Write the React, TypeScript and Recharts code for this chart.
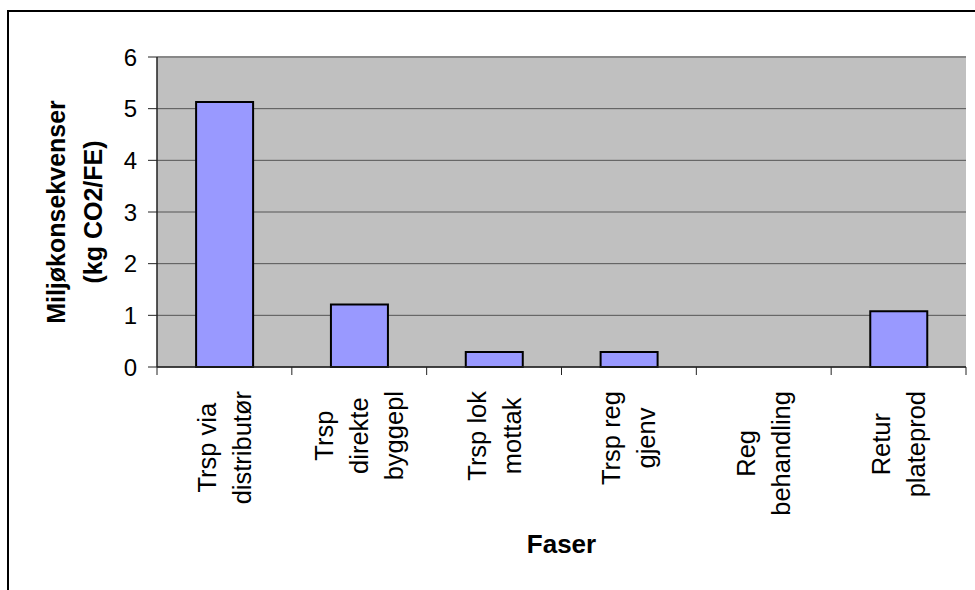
import React from 'react';
import { BarChart, Bar, XAxis, YAxis, CartesianGrid, ReferenceLine } from 'recharts';

// phases and CO2 values
const categories = [
  'Trsp via distributør',
  'Trsp direkte byggepl',
  'Trsp lok mottak',
  'Trsp reg gjenv',
  'Reg behandling',
  'Retur plateprod',
];
const co2Values = [5.13, 1.21, 0.29, 0.29, 0, 1.08];
const tickLines = [
  ['Trsp via', 'distributør'],
  ['Trsp', 'direkte', 'byggepl'],
  ['Trsp lok', 'mottak'],
  ['Trsp reg', 'gjenv'],
  ['Reg', 'behandling'],
  ['Retur', 'plateprod'],
];
const yTicks = [0, 1, 2, 3, 4, 5, 6];
const yTitle = ['Miljøkonsekvenser', '(kg CO2/FE)'];
const xTitle = 'Faser';

const data = categories.map((name, i) => ({ name, value: co2Values[i] }));

const FONT = "'Liberation Sans', Arial, sans-serif";
const X_FONT_SIZE = 25.5;
const LINE_GAP = 35;

let ctx: CanvasRenderingContext2D | null = null;
function measure(text: string) {
  if (!ctx) ctx = document.createElement('canvas').getContext('2d');
  if (!ctx) return text.length * X_FONT_SIZE * 0.5;
  ctx.font = `${X_FONT_SIZE}px ${FONT}`;
  return ctx.measureText(text).width;
}

// category label (wrapped, rotated) plus the tick marks between categories
function CategoryTick(props: any) {
  const { x, y, index, payload } = props;
  const half = payload && payload.offset ? payload.offset : 0;
  const lines = tickLines[index] || [];
  const longest = Math.max(...lines.map(measure));
  const cy = y + 24 + longest / 2;
  const startX = x - ((lines.length - 1) * LINE_GAP) / 2;
  const marks = [x - half];
  if (index === tickLines.length - 1) marks.push(x + half);
  return (
    <g>
      {marks.map((mx, i) => (
        <line key={'m' + i} x1={mx} x2={mx} y1={y} y2={y + 8} stroke="#222" strokeWidth={1} />
      ))}
      {lines.map((line, i) => {
        const lx = startX + i * LINE_GAP;
        return (
          <text
            key={i}
            x={lx}
            y={cy}
            transform={`rotate(-90, ${lx}, ${cy})`}
            textAnchor="middle"
            dominantBaseline="central"
            fontFamily={FONT}
            fontSize={X_FONT_SIZE}
            fill="#000"
          >
            {line}
          </text>
        );
      })}
    </g>
  );
}

function YTitle(props: any) {
  const { viewBox } = props;
  const cy = viewBox.y + viewBox.height / 2;
  const xs = [56, 93];
  return (
    <g>
      {yTitle.map((line, i) => (
        <text
          key={i}
          x={xs[i]}
          y={cy}
          transform={`rotate(-90, ${xs[i]}, ${cy})`}
          textAnchor="middle"
          dominantBaseline="central"
          fontFamily={FONT}
          fontWeight="bold"
          fontSize={25}
          fill="#000"
        >
          {line}
        </text>
      ))}
    </g>
  );
}

export default function App() {
  return (
    <div style={{ position: 'absolute', left: 0, top: 0, width: 975, height: 590, background: '#fff', overflow: 'hidden' }}>
      <div
        style={{
          position: 'absolute',
          left: 7,
          top: 10,
          width: 1000,
          height: 620,
          border: '2px solid #000',
        }}
      />
      <div style={{ position: 'absolute', left: 0, top: 0 }}>
        <BarChart
          width={975}
          height={590}
          data={data}
          margin={{ top: 57, right: 9, bottom: 0, left: 0 }}
          barCategoryGap="29%"
        >
          <CartesianGrid vertical={false} fill="#C0C0C0" stroke="#555" strokeWidth={1} />
          <XAxis
            dataKey="name"
            interval={0}
            tick={<CategoryTick />}
            tickSize={0}
            tickMargin={0}
            tickLine={false}
            axisLine={{ stroke: '#222', strokeWidth: 1.5 }}
            height={223}
            label={{ value: xTitle, position: 'insideTop', offset: 168, fontFamily: FONT, fontWeight: 'bold', fontSize: 26, fill: '#000' }}
          />
          <YAxis
            domain={[0, 6]}
            ticks={yTicks}
            interval={0}
            width={157}
            tickSize={9}
            tickMargin={11}
            tick={{ fontFamily: FONT, fontSize: 24, fill: '#000' }}
            tickLine={{ stroke: '#222' }}
            axisLine={{ stroke: '#222', strokeWidth: 1.5 }}
            label={<YTitle />}
          />
          <YAxis
            yAxisId="right"
            orientation="right"
            width={0}
            tick={false}
            tickLine={false}
            axisLine={{ stroke: '#888', strokeWidth: 2 }}
          />
          <ReferenceLine y={6} stroke="#888" strokeWidth={2} />
          <Bar dataKey="value" fill="#9999FF" stroke="#000" strokeWidth={2} isAnimationActive={false} />
        </BarChart>
      </div>
    </div>
  );
}
